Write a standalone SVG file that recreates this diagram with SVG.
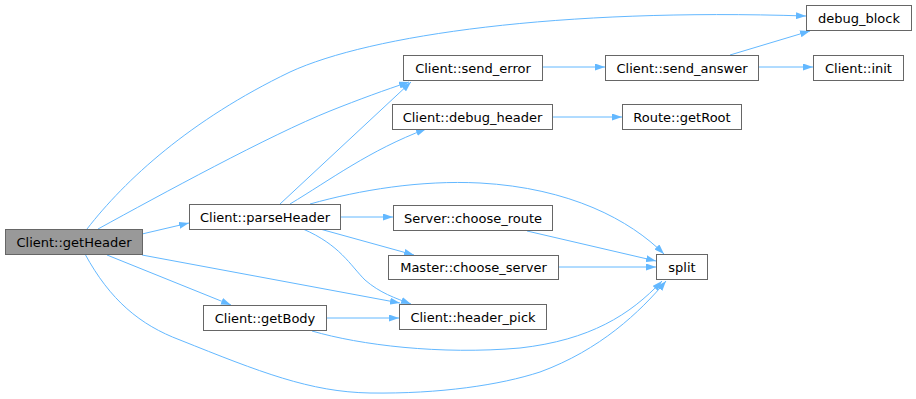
<svg xmlns="http://www.w3.org/2000/svg" width="916" height="399" viewBox="0 0 916 399">
  <style>
    .node rect { fill: #ffffff; stroke: #666666; stroke-width: 1; }
    .node.root rect { fill: #999999; }
    .node text { font-family: "DejaVu Sans", "Liberation Sans", sans-serif; font-size: 13px; fill: #000000; text-anchor: middle; }
    .edges path { fill: none; stroke: #63b8ff; stroke-width: 1; marker-end: url(#arrow); }
  </style>
  <defs>
    <marker id="arrow" viewBox="0 0 10 7" refX="10" refY="3.5" markerWidth="10" markerHeight="7" markerUnits="userSpaceOnUse" orient="auto">
      <path d="M0,0 L10,3.5 L0,7 z" fill="#63b8ff"/>
    </marker>
  </defs>
  <rect width="916" height="399" fill="#ffffff"/>

  <g class="edges">
    <!-- Client::getHeader -->
    <path d="M87,229 C125,180 190,120 290,72 C370,35 560,8 806,16"/>
    <path d="M98,229 C160,195 270,135 330,111 C360,99 385,90 409,82"/>
    <path d="M142,234 L189,223"/>
    <path d="M142,255 L400,303"/>
    <path d="M107,255 L231,305"/>
    <path d="M85,254 C110,300 140,325 180,340 C260,372 310,392 370,393 C440,394 500,385 540,372 C600,350 640,312 666,281"/>
    <!-- Client::parseHeader -->
    <path d="M280,204 L411,82"/>
    <path d="M290,204 C330,180 370,150 426,129"/>
    <path d="M310,204 C360,190 420,180 480,183 C570,188 630,220 664,254"/>
    <path d="M340,217 L393,217"/>
    <path d="M320,229 L414,255"/>
    <path d="M303,229 C340,245 350,265 365,280 C380,293 395,298 411,304"/>
    <!-- Client::getBody -->
    <path d="M326,318 L399,318"/>
    <path d="M312,331 C360,345 440,355 520,348 C590,340 630,315 662,281"/>
    <!-- Server::choose_route / Master::choose_server -->
    <path d="M527,231 L656,261"/>
    <path d="M558,267 L656,267"/>
    <!-- Client::send_error / Client::send_answer -->
    <path d="M542,67 L605,67"/>
    <path d="M758,67 L813,67"/>
    <path d="M730,55 L810,31"/>
    <!-- Client::debug_header -->
    <path d="M552,117 L622,117"/>
  </g>

  <g id="node-getHeader" class="node root">
    <rect x="5.5" y="229.5" width="137" height="25"/>
    <text x="74" y="246.5">Client::getHeader</text>
  </g>
  <g id="node-parseHeader" class="node">
    <rect x="189.5" y="204.5" width="151" height="25"/>
    <text x="265" y="221.5">Client::parseHeader</text>
  </g>
  <g id="node-choose_route" class="node">
    <rect x="393.5" y="205.5" width="159" height="25"/>
    <text x="473" y="222.5">Server::choose_route</text>
  </g>
  <g id="node-choose_server" class="node">
    <rect x="388.5" y="255.5" width="170" height="24"/>
    <text x="473.5" y="272">Master::choose_server</text>
  </g>
  <g id="node-header_pick" class="node">
    <rect x="399.5" y="304.5" width="147" height="25"/>
    <text x="473" y="321.5">Client::header_pick</text>
  </g>
  <g id="node-getBody" class="node">
    <rect x="203.5" y="305.5" width="123" height="25"/>
    <text x="265" y="322.5">Client::getBody</text>
  </g>
  <g id="node-send_error" class="node">
    <rect x="403.5" y="55.5" width="139" height="25"/>
    <text x="473" y="72.5">Client::send_error</text>
  </g>
  <g id="node-debug_header" class="node">
    <rect x="392.5" y="104.5" width="160" height="25"/>
    <text x="472.5" y="121.5">Client::debug_header</text>
  </g>
  <g id="node-debug_block" class="node">
    <rect x="806.5" y="5.5" width="105" height="25"/>
    <text x="859" y="22.5">debug_block</text>
  </g>
  <g id="node-send_answer" class="node">
    <rect x="605.5" y="55.5" width="153" height="25"/>
    <text x="682" y="72.5">Client::send_answer</text>
  </g>
  <g id="node-init" class="node">
    <rect x="813.5" y="55.5" width="90" height="25"/>
    <text x="858.5" y="72.5">Client::init</text>
  </g>
  <g id="node-getRoot" class="node">
    <rect x="622.5" y="104.5" width="119" height="25"/>
    <text x="682" y="121.5">Route::getRoot</text>
  </g>
  <g id="node-split" class="node">
    <rect x="656.5" y="254.5" width="51" height="25"/>
    <text x="682" y="271.5">split</text>
  </g>
</svg>
